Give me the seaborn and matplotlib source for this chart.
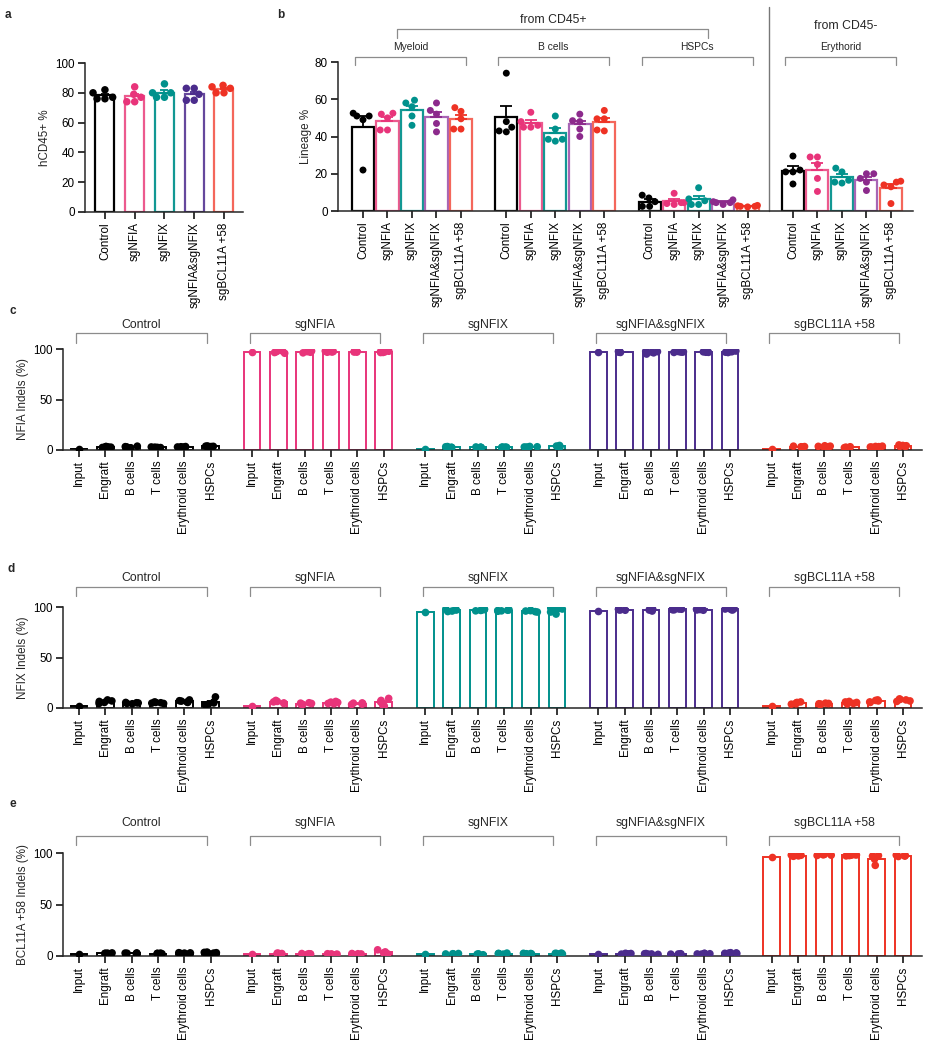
import warnings
import numpy as np
import pandas as pd
import matplotlib
matplotlib.use('Agg')
import matplotlib.pyplot as plt
import seaborn as sns

warnings.filterwarnings('ignore')
sns.set_style('ticks')
plt.rcParams['font.family'] = ['Liberation Sans', 'DejaVu Sans']
np.random.seed(3)

groups = ['Control', 'sgNFIA', 'sgNFIX', 'sgNFIA&sgNFIX', 'sgBCL11A +58']
tissues = ['Input', 'Engraft', 'B cells', 'T cells', 'Erythroid cells', 'HSPCs']
lineages = ['Myeloid', 'B cells', 'HSPCs', 'Erythorid']

# colours
point_colors = ['#000000', '#E8347A', '#00918C', '#4B2C8C', '#EE3224']
bar_colors_a = ['#000000', '#EC5A8E', '#129893', '#65479C', '#F4675B']
point_colors_b = ['#000000', '#E8347A', '#00918C', '#8C2A8C', '#EE3224']
bar_colors_b = ['#000000', '#EC5A8E', '#129893', '#A865B5', '#F4675B']

# a: hCD45+ %
hcd45 = [
    [82, 80, 77, 76, 76],
    [84, 79, 77, 74, 74],
    [86, 80, 80, 77, 77],
    [83, 83, 79, 75, 75],
    [85, 84, 83, 80, 80],
]

# b: lineage % (per lineage, per group)
lineage_myeloid = [[51, 52.5, 49, 51, 22], [52, 50, 52.5, 43.5, 43.5], [58, 59.5, 56, 51, 46],
                   [58, 54, 52, 47, 42.5], [55.5, 53.5, 49.5, 44, 44]]
lineage_bcells = [[74, 48, 45, 42.5, 43], [53, 48, 46, 45, 45], [51, 44, 37.5, 38.5, 38.5],
                  [52, 48.5, 48, 44, 40], [54, 49.5, 49.5, 43.5, 43]]
lineage_hspcs = [[8.5, 5, 2.5, 7, 2.5], [9.5, 4.5, 4.5, 4, 3.5], [12.5, 6.5, 5.5, 3.5, 3.5],
                 [6, 5, 4.5, 4.5, 3.5], [3, 2.5, 2.8, 2.5, 2.2]]
lineage_ery = [[29.5, 21, 21, 22, 14.5], [29, 29, 25, 17.5, 10.5], [23, 21, 16.5, 15.5, 15],
               [20, 20, 17.5, 15.5, 11], [16, 14, 13, 15.5, 4]]

# c: NFIA indels (%)  group -> tissue -> values
nfia_indels = [
    [[1.0], [3.5, 3.0, 2.5, 3.2, 2.8], [3.8, 3.0, 2.6, 3.3, 2.2], [3.0, 2.6, 2.2, 2.8, 2.4],
     [3.4, 3.0, 2.7, 3.2, 2.9], [4.0, 3.6, 3.2, 3.8, 3.4]],
    [[97.5], [98.0, 97.2, 96.5, 97.6, 95.8], [98.0, 97.4, 96.8, 97.5, 96.2], [98.0, 97.5, 97.0, 97.6, 96.8],
     [98.1, 97.6, 97.0, 97.8, 96.9], [97.8, 97.2, 96.5, 97.4, 96.6]],
    [[1.0], [3.4, 3.0, 2.5, 3.2, 2.7], [3.0, 2.6, 2.2, 2.8, 2.4], [3.0, 2.7, 2.3, 2.9, 2.5],
     [3.5, 3.0, 2.6, 3.2, 2.8], [4.5, 3.6, 3.0, 3.9, 2.8]],
    [[97.0], [97.8, 97.2, 96.6, 97.5, 96.8], [97.8, 97.0, 95.0, 97.4, 96.2], [97.6, 97.1, 96.6, 97.3, 96.9],
     [97.8, 97.2, 96.7, 97.5, 96.8], [98.0, 97.3, 96.5, 97.6, 96.8]],
    [[1.0], [3.8, 3.2, 2.6, 3.4, 2.9], [4.2, 3.6, 3.0, 3.8, 3.2], [3.2, 2.6, 2.0, 2.8, 2.3],
     [3.8, 3.3, 2.8, 3.5, 3.0], [5.0, 4.2, 3.4, 4.5, 3.6]],
]

# d: NFIX indels (%)
nfix_indels = [
    [[1.5], [8.0, 7.0, 5.5, 6.5, 4.5], [5.5, 5.0, 4.2, 5.2, 4.5], [6.0, 5.2, 4.5, 5.5, 4.8],
     [8.0, 6.8, 5.5, 7.2, 6.0], [11.0, 6.0, 4.0, 5.0, 3.0]],
    [[1.5], [7.5, 6.5, 5.0, 6.0, 4.5], [5.2, 4.5, 3.5, 4.8, 3.8], [6.5, 5.5, 4.2, 5.8, 4.5],
     [5.0, 4.5, 3.5, 4.8, 3.8], [9.5, 7.5, 6.0, 3.0, 2.0]],
    [[95.5], [98.0, 97.0, 96.0, 97.5, 95.5], [97.8, 97.0, 96.2, 97.4, 96.6], [97.2, 96.5, 95.8, 96.8, 96.2],
     [96.8, 96.0, 95.0, 96.4, 95.4], [99.0, 97.5, 95.0, 98.0, 93.0]],
    [[96.5], [98.0, 97.4, 96.8, 97.6, 97.0], [98.3, 97.6, 96.0, 97.8, 97.0], [98.0, 97.6, 97.2, 97.8, 97.4],
     [98.0, 97.5, 96.8, 97.8, 97.1], [98.8, 98.0, 97.0, 98.3, 97.5]],
    [[1.5], [6.0, 5.0, 3.8, 5.5, 4.2], [4.8, 4.2, 3.5, 4.5, 3.8], [6.5, 5.5, 4.0, 6.0, 4.5],
     [8.0, 7.0, 5.5, 7.5, 6.0], [9.0, 8.0, 6.5, 8.5, 7.0]],
]

# e: BCL11A +58 indels (%)
bcl11a_indels = [
    [[1.5], [3.0, 2.6, 2.2, 2.8, 2.4], [3.0, 2.7, 2.3, 2.8, 2.5], [2.8, 2.4, 2.0, 2.6, 2.2],
     [3.2, 2.8, 2.4, 3.0, 2.6], [3.8, 3.2, 2.6, 3.5, 2.8]],
    [[1.5], [2.8, 2.4, 2.0, 2.6, 2.2], [2.4, 2.0, 1.6, 2.2, 1.8], [2.2, 1.8, 1.4, 2.0, 1.6],
     [2.4, 2.0, 1.6, 2.2, 1.8], [6.0, 4.0, 3.0, 2.5, 2.0]],
    [[1.5], [2.4, 2.0, 1.6, 2.2, 1.8], [2.0, 1.6, 1.2, 1.8, 1.4], [2.8, 2.3, 1.8, 2.5, 2.0],
     [2.6, 2.2, 1.8, 2.4, 2.0], [2.8, 2.4, 2.0, 2.6, 2.2]],
    [[1.5], [2.6, 2.2, 1.8, 2.4, 2.0], [2.4, 2.0, 1.6, 2.2, 1.8], [2.2, 1.8, 1.4, 2.0, 1.6],
     [2.6, 2.2, 1.8, 2.4, 2.0], [3.2, 2.8, 2.4, 3.0, 2.6]],
    [[96.0], [98.0, 97.5, 96.8, 97.8, 97.2], [98.8, 98.3, 97.6, 98.5, 97.9], [98.4, 97.9, 97.2, 98.1, 97.5],
     [97.5, 97.0, 96.0, 94.0, 88.0], [98.0, 97.5, 96.6, 97.8, 97.0]],
]

FS = 8.4
BR_COLOR = '#8c8c8c'

fig = plt.figure(figsize=(9.33, 10.5), dpi=100)


def px_axes(x0, y0, x1, y1):
    return fig.add_axes([x0 / 933, 1 - y1 / 1050, (x1 - x0) / 933, (y1 - y0) / 1050])


def style(ax):
    sns.despine(ax=ax)
    for s in ['left', 'bottom']:
        ax.spines[s].set_linewidth(1.1)
    ax.tick_params(width=1.1, length=5, labelsize=FS, colors='black', pad=2.5)


def sem_bars(ax, df, key, cap):
    st = df.groupby(key, sort=False).agg(value=('value', 'mean'), sem=('value', 'sem'),
                                        color=('color', 'first'))
    for x, row in st.iterrows():
        if np.isnan(row['sem']):
            continue
        ax.errorbar(x, row['value'], yerr=[[0], [row['sem']]], fmt='none', ecolor=row['color'],
                    elinewidth=1.3, capsize=cap, capthick=1.3, zorder=2)


def bracket(ax, x0, x1, y, drop, text, ty, fs):
    ax.plot([x0, x0, x1, x1], [drop, y, y, drop], color=BR_COLOR, lw=0.9, clip_on=False)
    if text:
        ax.text((x0 + x1) / 2, ty, text, ha='center', va='center', fontsize=fs, clip_on=False)


# ---------- a ----------
ax = px_axes(85, 63, 243, 212)
df_a = pd.DataFrame([(i, g, v, point_colors[i]) for i, g in enumerate(groups) for v in hcd45[i]],
                    columns=['pos', 'group', 'value', 'color'])
sns.barplot(df_a, x='group', y='value', hue='group', order=groups, hue_order=groups,
            palette=bar_colors_a, fill=False, errorbar=None, width=0.64, linewidth=1.6,
            legend=False, ax=ax)
sem_bars(ax, df_a, 'pos', 3)
sns.swarmplot(df_a, x='group', y='value', hue='group', order=groups, hue_order=groups,
              palette=point_colors, size=5.4, legend=False, ax=ax, zorder=3)
ax.set_xlim(-0.67, 4.64)
ax.set_ylim(0, 100)
ax.set_yticks([0, 20, 40, 60, 80, 100])
ax.set_xticks(range(5))
ax.set_xticklabels(groups, rotation=90)
ax.set_xlabel('')
ax.set_ylabel('hCD45+ %', fontsize=FS, labelpad=3)
style(ax)

# ---------- b ----------
ax = px_axes(338, 62, 913, 211)
GB = 5.85
rows = []
for li, data in enumerate([lineage_myeloid, lineage_bcells, lineage_hspcs, lineage_ery]):
    for gi, g in enumerate(groups):
        for v in data[gi]:
            rows.append((li * GB + gi, g, v, point_colors_b[gi]))
df_b = pd.DataFrame(rows, columns=['pos', 'group', 'value', 'color'])
sns.barplot(df_b, x='pos', y='value', hue='group', hue_order=groups, palette=bar_colors_b,
            native_scale=True, dodge=False, fill=False, errorbar=None, width=0.9, linewidth=1.6,
            legend=False, ax=ax)
sem_bars(ax, df_b, 'pos', 4)
sns.swarmplot(df_b, x='pos', y='value', hue='group', hue_order=groups, palette=point_colors_b,
              native_scale=True, size=5, legend=False, ax=ax, zorder=3)
ax.set_xticks(sorted(df_b['pos'].unique()))
ax.set_xticklabels(groups * 4, rotation=90)
ax.set_xlim(-1.02, 22.45)
ax.set_ylim(0, 80)
ax.set_yticks([0, 20, 40, 60, 80])
ax.set_xlabel('')
ax.set_ylabel('Lineage %', fontsize=FS, labelpad=2)
style(ax)
for li, name in enumerate(lineages):
    bracket(ax, li * GB - 0.33, li * GB + 4.2, 82.7, 78.4, name, 87.8, 7.4)
bracket(ax, 1.39, 14.1, 97.7, 92.9, '', 0, FS)
ax.text(7.76, 102.6, 'from CD45+', ha='center', va='center', fontsize=8.8)
ax.text(19.7, 99.4, 'from CD45-', ha='center', va='center', fontsize=8.8)
ax.plot([16.57, 16.57], [0, 109.5], color='#777777', lw=1.0, clip_on=False)

# ---------- c, d, e ----------
GC = 6.58


def indel_panel(y0, y1, data, ylabel, br):
    ax = px_axes(63, y0, 922, y1)
    rows = []
    for gi, g in enumerate(groups):
        for ti, t in enumerate(tissues):
            for v in data[gi][ti]:
                rows.append((gi * GC + ti, g, v, point_colors[gi]))
    df = pd.DataFrame(rows, columns=['pos', 'group', 'value', 'color'])
    sns.barplot(df, x='pos', y='value', hue='group', hue_order=groups, palette=point_colors,
                native_scale=True, dodge=False, fill=False, errorbar=None, width=0.63,
                linewidth=1.4, legend=False, ax=ax)
    sem_bars(ax, df, 'pos', 3)
    sns.stripplot(df, x='pos', y='value', hue='group', hue_order=groups, palette=point_colors,
                  native_scale=True, jitter=0.27, size=5.5, legend=False, ax=ax, zorder=3)
    ax.set_xticks(sorted(df['pos'].unique()))
    ax.set_xticklabels(tissues * 5, rotation=90)
    ax.set_xlim(-0.61, 32.04)
    ax.set_ylim(0, 100)
    ax.set_yticks([0, 50, 100])
    ax.set_xlabel('')
    ax.set_ylabel(ylabel, fontsize=FS, labelpad=3)
    style(ax)
    for gi, g in enumerate(groups):
        bracket(ax, gi * GC - 0.1, gi * GC + 4.85, br[0], br[1], g, br[2], 8.8)
    return ax


indel_panel(349, 450, nfia_indels, 'NFIA Indels (%)', (115.7, 106, 123.5))
indel_panel(607, 708, nfix_indels, 'NFIX Indels (%)', (119.5, 111, 128.5))
indel_panel(853, 956, bcl11a_indels, 'BCL11A +58 Indels (%)', (116.5, 107.8, 129))

for letter, (x, y) in zip('abcde', [(5, 15), (277, 15), (10, 311), (7, 569), (9, 804)]):
    fig.text(x / 933, 1 - y / 1050, letter, fontsize=8.5, fontweight='bold', ha='left', va='center')

fig.savefig('out.png', dpi=100)
